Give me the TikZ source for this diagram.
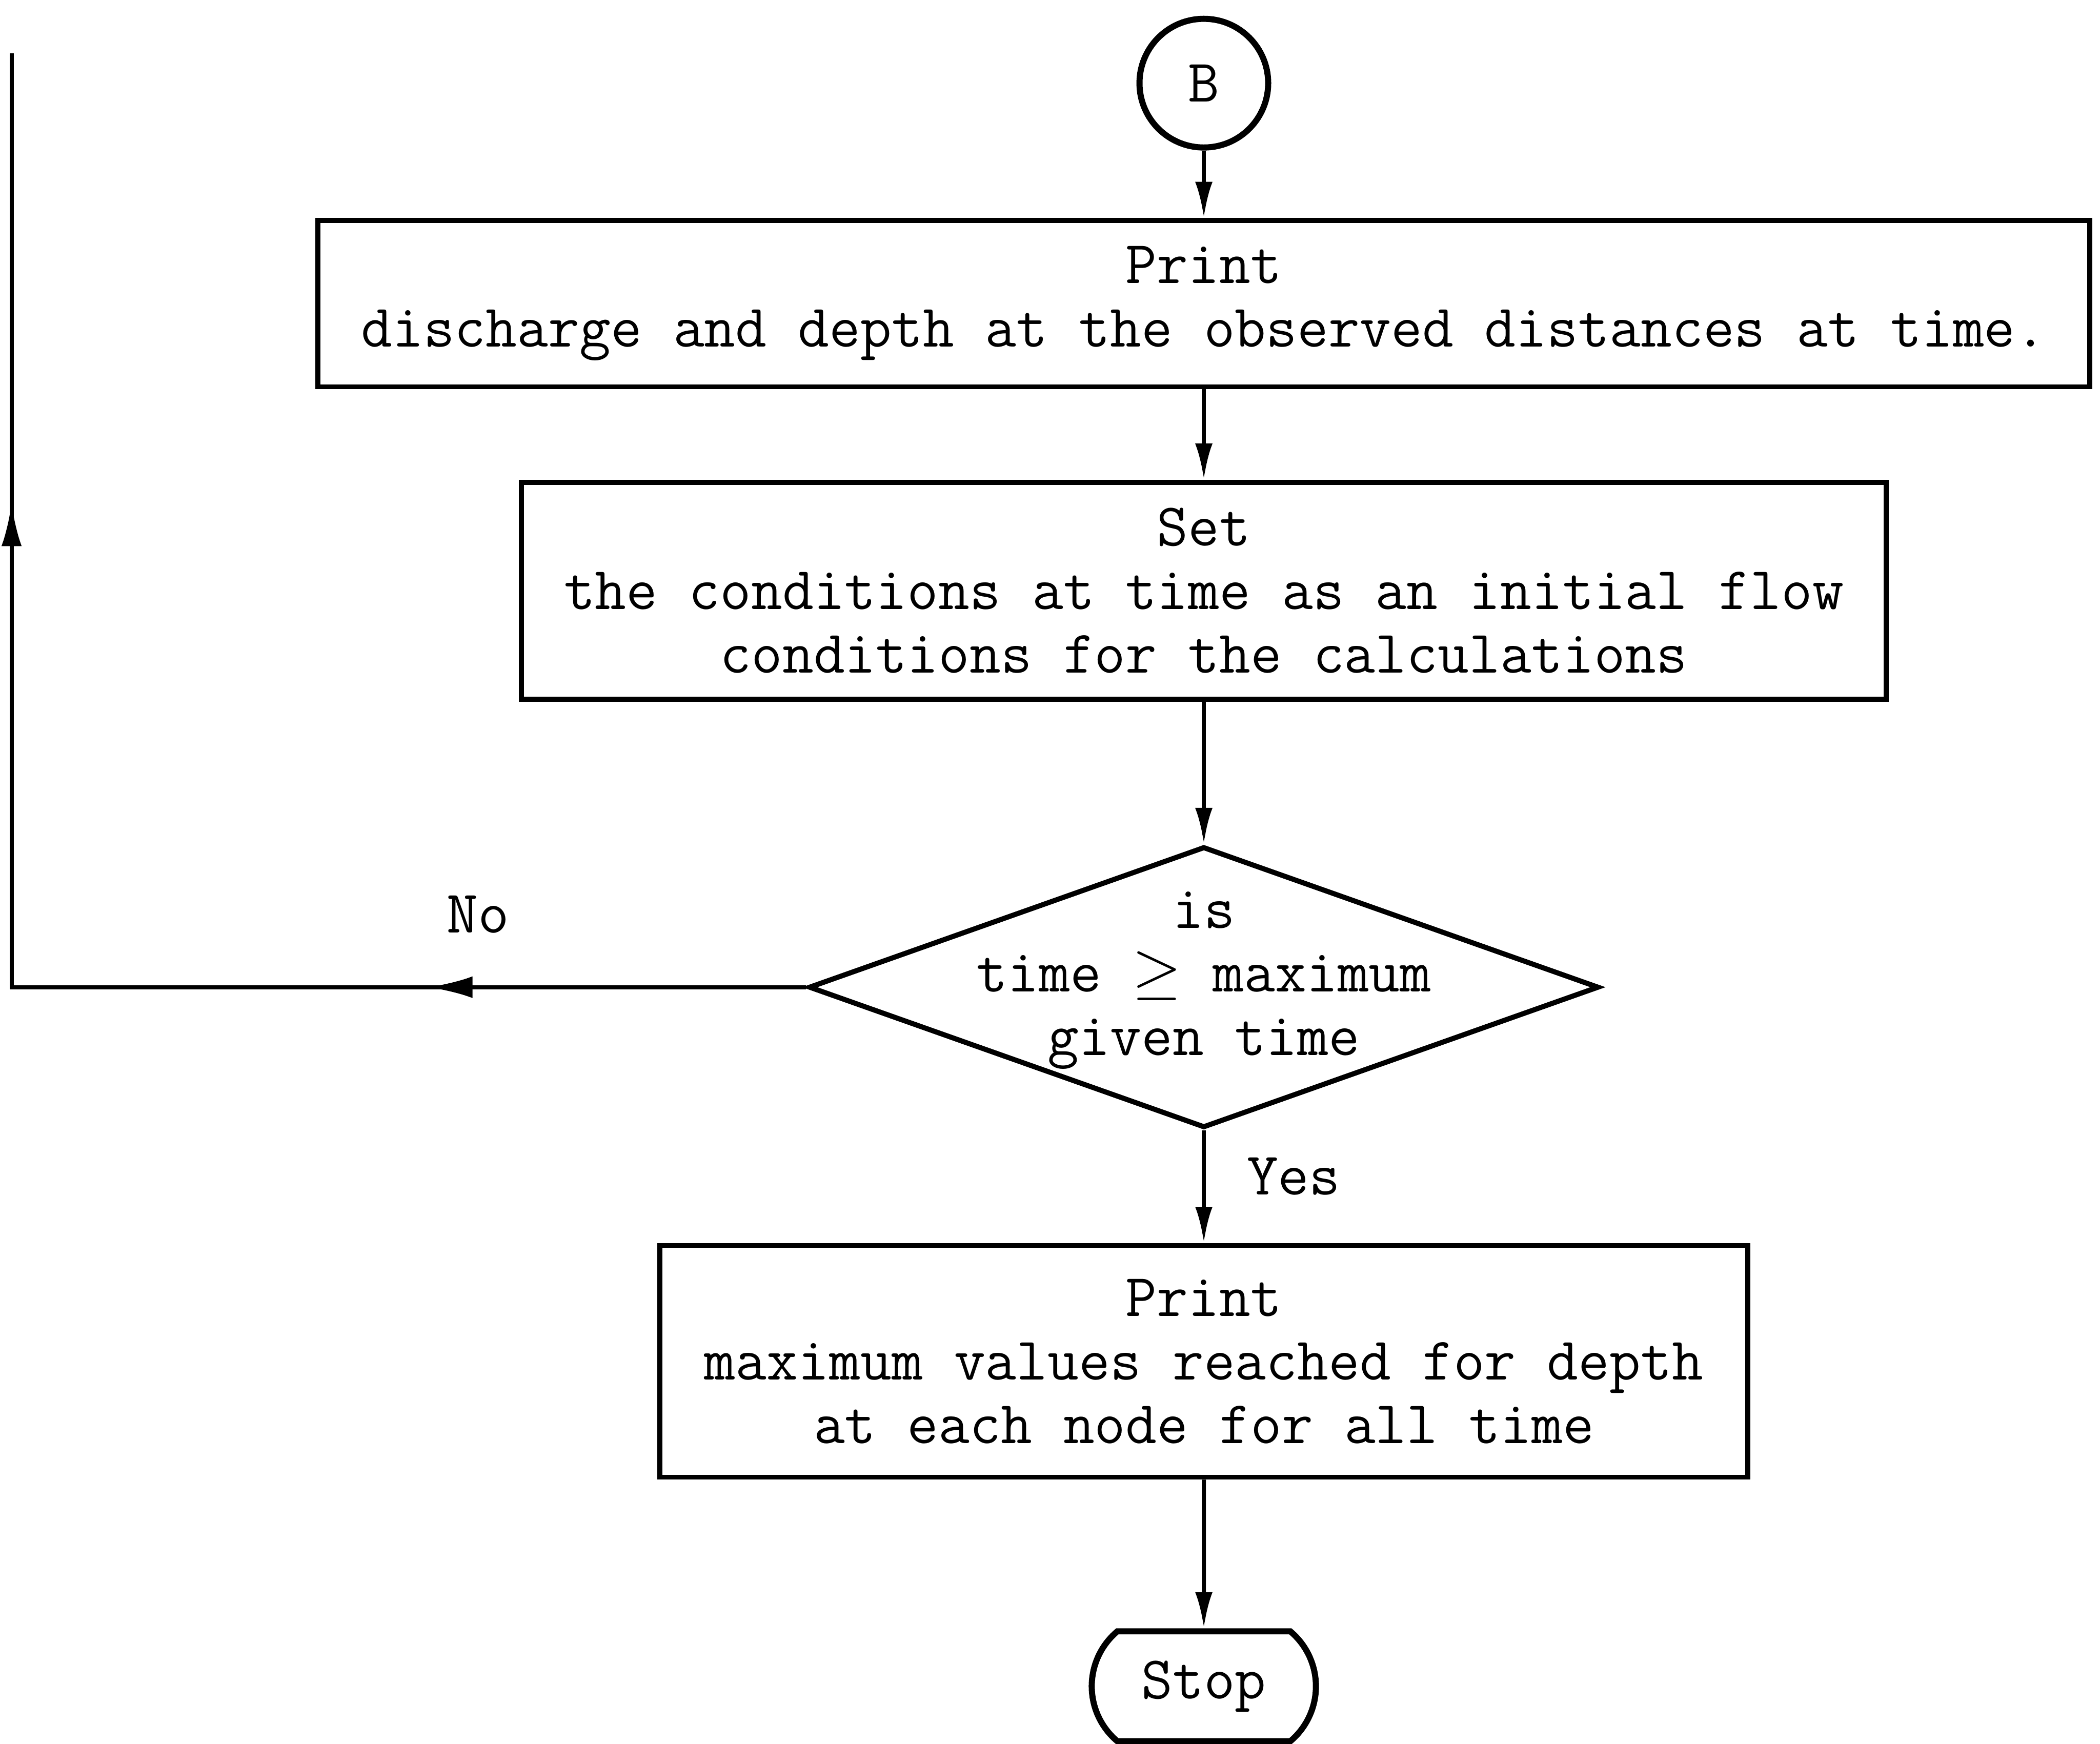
\documentclass[tikz,border=0pt]{standalone}
\usetikzlibrary{positioning,arrows.meta,shapes.geometric,shapes.misc,decorations.markings}

\begin{document}
\begin{tikzpicture}[>={Latex[length=0.5cm,width=0.24cm]},
  font=\ttfamily\fontsize{23.85}{25}\selectfont,
  box/.style={draw,line width=2pt,align=center,inner sep=0pt},
  decision/.style={draw,diamond,line width=2pt,inner sep=0pt,minimum width=10.93cm,minimum height=3.89cm},
  flow/.style={->,line width=1.6pt},
  loopline/.style={line width=1.6pt,postaction={decorate},decoration={markings,
      mark=at position 0.219 with {\arrow{Latex[length=0.62cm,width=0.3cm]}},
      mark=at position 0.740 with {\arrow{Latex[length=0.6cm,width=0.28cm]}}}}]
  \useasboundingbox (0,0) rectangle (29.045,-24.12);

  \node[circle,draw,line width=2.4pt,minimum size=1.78cm,inner sep=0pt] (B) at (16.65,-1.15) {B};
  \node[box,minimum width=24.51cm,minimum height=2.3cm] (print1) at (16.65,-4.2)
    {Print\\discharge and depth at the observed distances at time.};
  \node[box,minimum width=18.88cm,minimum height=3.0cm] (setc) at (16.65,-8.17)
    {Set\\the conditions at time as an initial flow\\conditions for the calculations};
  \node[decision] (dec) at (16.65,-13.655) {};
  \node[align=center] (dectext) at (16.65,-13.56) {is\\time $\geq$ maximum\\given time};
  \node[box,minimum width=15.045cm,minimum height=3.205cm] (print2) at (16.65,-18.83)
    {Print\\maximum values reached for depth\\at each node for all time};
  \node[draw,rounded rectangle,rounded rectangle arc length=100,line width=2.4pt,
    minimum width=3.335cm,minimum height=1.52cm] (stop) at (16.65,-23.325) {Stop};
  \coordinate (loopend) at (0.16,-0.74);

  \draw[flow] (B) -- (print1);
  \draw[flow] (print1) -- (setc);
  \draw[flow] (setc) -- (dec.north);
  \draw[flow] (dec.south) -- node[pos=0.41,right=0.45cm]{Yes} (print2);
  \draw[flow] (print2) -- (stop);
  \draw[loopline] (dec.west) -- node[pos=0.413,above=0.6cm]{No} (dec.west -| loopend) -- (loopend);
\end{tikzpicture}
\end{document}
